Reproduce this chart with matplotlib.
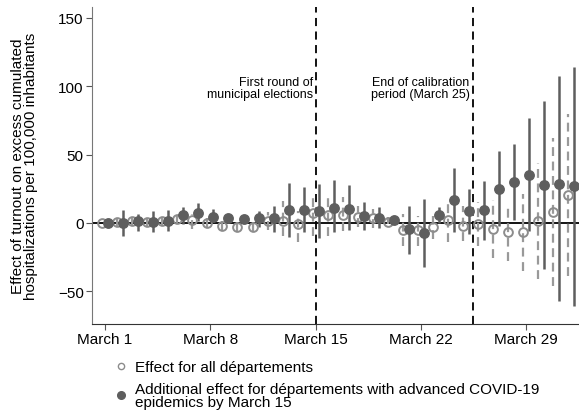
import numpy as np
import matplotlib.pyplot as plt
from matplotlib.lines import Line2D

plt.rcParams['font.family'] = ['Liberation Sans', 'DejaVu Sans']

# days since March 1 (1 = March 1, 32 = April 1)
days = np.arange(1, 33)

# effect for all departements (open circles) with 95% CI
all_est = [0, 1, 1.5, 1, 1.5, 3, 2, 0, -2, -3, -3, 1.5, 1.5, -1, 7, 6,
           5.5, 4.4, 3.6, 0.5, -5, -5.5, -3, 2, -2, -0.5, -4.4, -6.8, -6.8, 1.5, 8, 20.5]
all_lo = [0, -3, -2, -3, -2, 0, -4.5, -3, -5, -6, -6, -5.5, -9.5, -14, -9.5, -9.5,
          -6, -3, -3.6, -1, -17, -17, -12, -14, -13, -17, -26, -28, -35, -41, -46, -39]
all_hi = [0, 5, 5, 5, 4, 6, 6.5, 4, 2, 1, 1, 8, 16, 9, 21, 22,
          19, 12, 10, 4, 6.5, 5, 5, 17.5, 12, 15, 17, 13, 21, 44, 62, 80]

# additional effect for advanced departements (filled circles) with 95% CI
add_est = [0, 0, 1.2, 1, 1.5, 5.5, 7, 4.4, 3.6, 3, 3.6, 3.6, 9.5, 9.5, 8.5, 11,
           10, 5.2, 3.6, 2.2, -4.4, -7.3, 6, 16.8, 8.8, 9.5, 25, 30, 35, 28, 28.5, 27]
add_lo = [0, -9.5, -6, -6.6, -6, -0.7, 1.5, 0.7, 0.5, 0, -3, -6.6, -10, -6.6, -11, -6.6,
          -5, -5, -4, -0.7, -22.7, -32, 0, -6.6, -8, -12.5, -2, 2, -6, -34, -57, -61]
add_hi = [0, 9.5, 6.5, 9, 9.5, 11.7, 14.6, 10, 6.6, 6, 9, 12.4, 29, 26, 28.5, 31.5,
          28, 15, 11.7, 5, 12.4, 17.6, 11.7, 40, 25, 31, 52.7, 58, 77, 89, 107.6, 114]

tick_days = [1, 8, 15, 22, 29]
tick_labels = ['March 1', 'March 8', 'March 15', 'March 22', 'March 29']

elections_day = 15
calibration_end = 25.47

dark = '#5e5e5e'
light = '#8c8c8c'

fig = plt.figure(figsize=(5.79, 4.14), dpi=100)
ax = fig.add_axes([92 / 579, 89 / 414, 1 - 92 / 579, (325 - 8) / 414])

x_all = days - 0.2
x_add = days + 0.2

ax.axhline(0, color='black', lw=1.3, zorder=2)
ax.axvline(elections_day, color='black', lw=1.3, ls=(0, (4.5, 3)), zorder=1)
ax.axvline(calibration_end, color='black', lw=1.3, ls=(0, (4.5, 3)), zorder=1)

ax.vlines(x_all, all_lo, all_hi, color='#999999', lw=1.6, linestyles=(0, (4, 2.5)), zorder=3)
ax.vlines(x_add, add_lo, add_hi, color=dark, lw=1.8, zorder=3)

ax.plot(x_all, all_est, 'o', ms=6.3, mfc='none', mec=light, mew=1.4, zorder=4)
ax.plot(x_add, add_est, 'o', ms=6.8, mfc=dark, mec=dark, zorder=5)

ax.text(elections_day - 0.2, 90, 'First round of\nmunicipal elections', ha='right', va='bottom',
        fontsize=9, linespacing=0.95)
ax.text(calibration_end - 0.25, 90, 'End of calibration\nperiod (March 25)', ha='right', va='bottom',
        fontsize=9, linespacing=0.95)

ax.set_xlim(0.13, 32.5)
ax.set_ylim(-74, 158)
ax.set_xticks(tick_days)
ax.set_xticklabels(tick_labels)
ax.set_yticks([-50, 0, 50, 100, 150])
ax.tick_params(axis='both', labelsize=11, length=4, color='#555555')
ax.tick_params(axis='y', pad=2)
ax.tick_params(axis='x', pad=1.5)

ax.spines['top'].set_visible(False)
ax.spines['right'].set_visible(False)
ax.spines['left'].set_color('#777777')
ax.spines['bottom'].set_color('#333333')

ax.set_ylabel('Effect of turnout on excess cumulated\nhospitalizations per 100,000 inhabitants',
              fontsize=11, linespacing=0.9, labelpad=14)

handles = [
    Line2D([], [], ls='none', marker='o', ms=4.5, mfc='none', mec=light, mew=1),
    Line2D([], [], ls='none', marker='o', ms=5.5, mfc=dark, mec=dark),
]
labels = ['Effect for all départements',
          'Additional effect for départements with advanced COVID-19\nepidemics by March 15']
leg = fig.legend(handles, labels, loc='upper left', bbox_to_anchor=(113 / 579, 1 - 361 / 414),
                 frameon=False, fontsize=11, handlelength=1, handletextpad=0.42,
                 borderpad=0, borderaxespad=0, labelspacing=0.5)
for t in leg.get_texts():
    t.set_linespacing(0.9)

fig.savefig('out.png', dpi=100)
